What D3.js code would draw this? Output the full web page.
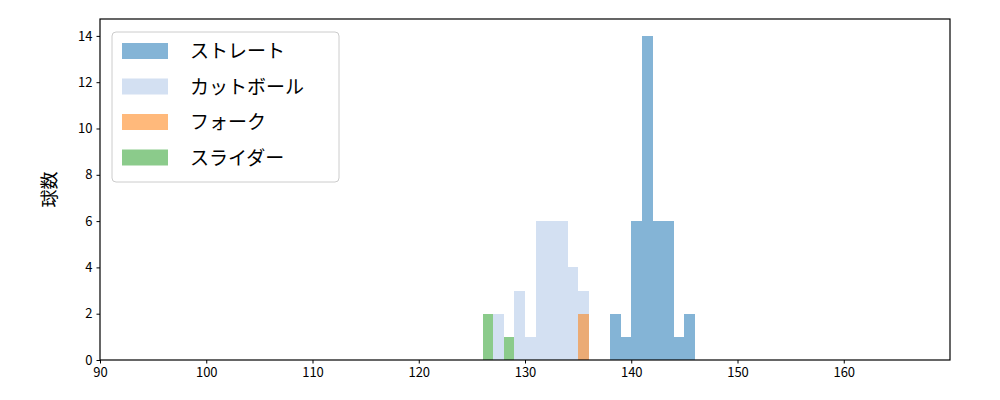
<!DOCTYPE html>
<html><head><meta charset="utf-8">
<script src="https://cdn.jsdelivr.net/npm/d3@7"></script>
<style>body{margin:0;background:#fff}text{font-family:"Noto Sans CJK JP","DejaVu Sans",sans-serif}</style>
</head><body>
<script>
// bin start (1 km/h wide) and counts per pitch type
const straightBins = [138,139,140,141,142,143,144,145];
const straightCounts = [2,1,6,14,6,6,1,2];
const cutterBins = [127,128,129,130,131,132,133,134,135];
const cutterCounts = [2,0,3,1,6,6,6,4,3];
const forkBins = [135];
const forkCounts = [2];
const sliderBins = [126,128];
const sliderCounts = [2,1];
const xTicks = [90,100,110,120,130,140,150,160];
const yTicks = [0,2,4,6,8,10,12,14];

const series = [
  {name:"ストレート", bins:straightBins, counts:straightCounts, color:"#1f77b4"},
  {name:"カットボール", bins:cutterBins, counts:cutterCounts, color:"#aec7e8"},
  {name:"フォーク", bins:forkBins, counts:forkCounts, color:"#ff7f0e"},
  {name:"スライダー", bins:sliderBins, counts:sliderCounts, color:"#2ca02c"}
];

const W=1000,H=400,m={l:100,r:50,t:19,b:40};
const svg=d3.select("body").append("svg").attr("width",W).attr("height",H);
const x=d3.scaleLinear().domain([90,170]).range([m.l,W-m.r]);
const y=d3.scaleLinear().domain([0,14.73]).range([H-m.b,m.t]);

series.forEach(s=>{
  svg.append("g").attr("shape-rendering","crispEdges").selectAll("rect")
    .data(s.bins.map((b,i)=>({b,c:s.counts[i]})).filter(d=>d.c>0))
    .join("rect")
    .attr("x",d=>x(d.b)).attr("width",d=>x(d.b+1)-x(d.b))
    .attr("y",d=>y(d.c)).attr("height",d=>y(0)-y(d.c))
    .attr("fill",s.color).attr("fill-opacity",0.55);
});

const gx=svg.append("g").attr("transform",`translate(0,${H-m.b})`)
  .call(d3.axisBottom(x).tickValues(xTicks).tickSize(3.5).tickPadding(4));
const gy=svg.append("g").attr("transform",`translate(${m.l},0)`)
  .call(d3.axisLeft(y).tickValues(yTicks).tickSize(3.5).tickPadding(4));
[gx,gy].forEach(g=>{g.select(".domain").remove();g.selectAll("text").attr("font-size",13).attr("fill","#000");g.selectAll("line").attr("stroke","#000");});
svg.append("rect").attr("x",m.l).attr("y",m.t).attr("width",W-m.l-m.r).attr("height",H-m.t-m.b)
  .attr("fill","none").attr("stroke","#000").attr("stroke-width",1.2);
svg.append("text").attr("transform",`translate(56,${(m.t+H-m.b)/2}) rotate(-90)`)
  .attr("text-anchor","middle").attr("font-size",18).text("球数");

const lg=svg.append("g");
lg.append("rect").attr("x",112).attr("y",32).attr("width",227).attr("height",150).attr("rx",4)
  .attr("fill","#fff").attr("fill-opacity",0.8).attr("stroke","#ccc");
series.forEach((s,i)=>{
  const yy=51+i*35.5;
  lg.append("rect").attr("x",122).attr("y",yy-8).attr("width",46).attr("height",16)
    .attr("fill",s.color).attr("fill-opacity",0.55);
  lg.append("text").attr("x",190).attr("y",yy+7).attr("font-size",19).text(s.name);
});
</script>
</body></html>
